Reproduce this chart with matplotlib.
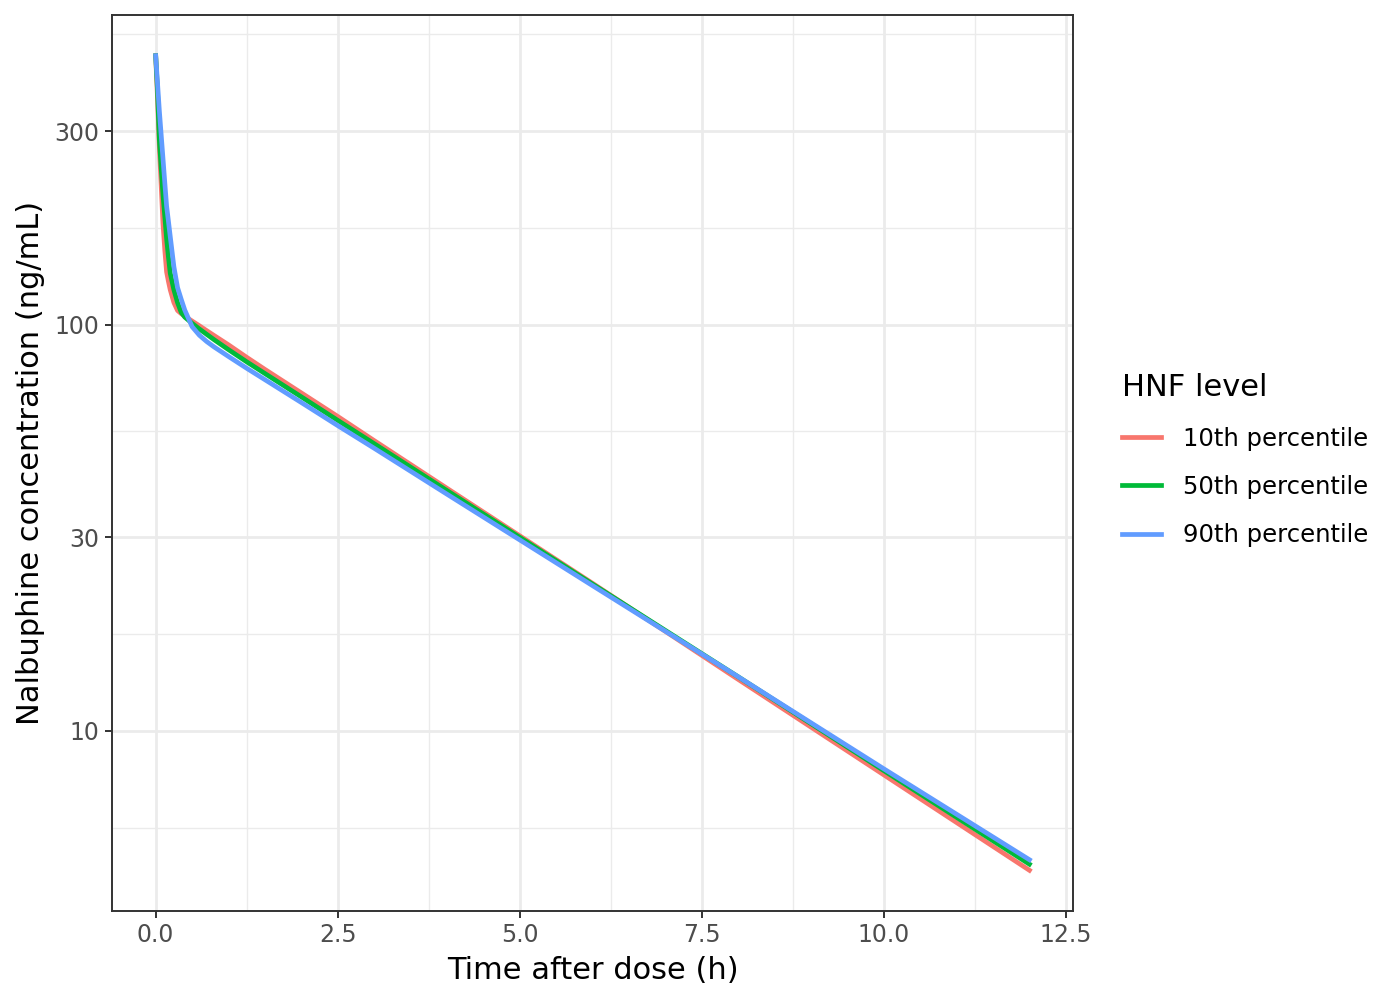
import matplotlib

matplotlib.use("Agg")
import matplotlib.pyplot as plt
import numpy as np

# values (time in h, concentration in ng/mL)
time_h = [0, 0.025, 0.05, 0.1, 0.125, 0.15, 0.175, 0.2, 0.25, 0.3, 0.35, 0.4,
          0.5, 0.6, 0.7, 0.8, 1.0, 1.25, 1.5, 2, 2.5, 3, 4, 6, 8, 10, 12]
conc_p10 = [460, 362, 275, 178, 153, 135, 128, 122, 113.5, 108.5, 106.6,
            105.0, 102.2, 99.5, 96.8, 94.2, 89.3, 83.2, 77.7, 68.0, 59.5,
            51.9, 39.6, 23.1, 13.4, 7.80, 4.54]
conc_p50 = [460, 377, 286, 209, 185, 163, 147, 134, 122, 113.5, 107.4,
            104.5, 100.9, 97.7, 94.8, 92.0, 86.9, 81.1, 75.9, 66.5, 58.2,
            51.0, 39.1, 23.0, 13.6, 7.99, 4.70]
conc_p90 = [460, 394, 337, 257, 224, 196, 180, 165, 139, 123.6, 115.7,
            108.7, 99.0, 94.3, 91.0, 88.3, 83.6, 78.2, 73.3, 64.4, 56.5,
            49.7, 38.3, 22.8, 13.6, 8.07, 4.82]

series_labels = ["10th percentile", "50th percentile", "90th percentile"]
series_colors = ["#F8766D", "#00BA38", "#619CFF"]

x_breaks = [0, 2.5, 5, 7.5, 10, 12.5]
x_labels = ["0.0", "2.5", "5.0", "7.5", "10.0", "12.5"]
y_breaks = [10, 30, 100, 300]

plt.rcParams["font.family"] = ["DejaVu Sans"]

fig = plt.figure(figsize=(14, 10), dpi=100)
ax = fig.add_axes([0.08, 0.089, 0.6865, 0.896])

for vals, lab, col in zip([conc_p10, conc_p50, conc_p90], series_labels, series_colors):
    ax.plot(time_h, vals, color=col, lw=3.4, label=lab, solid_joinstyle="round", zorder=3)

ax.set_yscale("log")

# ggplot-like expansion (5%) in data / log space
allc = np.log10(np.concatenate([conc_p10, conc_p50, conc_p90]))
lo, hi = allc.min(), allc.max()
pad = 0.05 * (hi - lo)
ax.set_ylim(10 ** (lo - pad), 10 ** (hi + pad))
xr = max(time_h) - min(time_h)
ax.set_xlim(min(time_h) - 0.05 * xr, max(time_h) + 0.05 * xr)

ax.set_xticks(x_breaks)
ax.set_xticklabels(x_labels)
ax.set_yticks(y_breaks)
ax.set_yticklabels([str(b) for b in y_breaks])
ax.yaxis.set_minor_locator(matplotlib.ticker.NullLocator())
ax.xaxis.set_minor_locator(matplotlib.ticker.NullLocator())

# grid lines drawn by hand like ggplot (minor = midpoints in transformed space)
grid_col = "#EBEBEB"
xb = np.array(x_breaks)
x_minor = (xb[:-1] + xb[1:]) / 2
lb = np.log10(y_breaks)
step = lb[1] - lb[0]
lb_ext = np.concatenate([[lb[0] - step], lb, [lb[-1] + step]])
y_minor = 10 ** ((lb_ext[:-1] + lb_ext[1:]) / 2)
for xm in x_minor:
    ax.axvline(xm, color=grid_col, lw=1.0, zorder=0)
for ym in y_minor:
    ax.axhline(ym, color=grid_col, lw=1.0, zorder=0)
for xv in x_breaks:
    ax.axvline(xv, color=grid_col, lw=2.0, zorder=0)
for yv in y_breaks:
    ax.axhline(yv, color=grid_col, lw=2.0, zorder=0)

for sp in ax.spines.values():
    sp.set_color("#333333")
    sp.set_linewidth(1.4)

ax.tick_params(axis="both", length=5, width=1.4, color="#333333",
               labelsize=17, labelcolor="#4D4D4D", pad=4)

ax.set_xlabel("Time after dose (h)", fontsize=22, labelpad=6)
ax.set_ylabel("Nalbuphine concentration (ng/mL)", fontsize=22, labelpad=7)

leg = ax.legend(loc="center left", bbox_to_anchor=(0.786, 0.54),
                bbox_transform=fig.transFigure, frameon=False,
                title="HNF level", title_fontsize=22, fontsize=17.5,
                handlelength=1.6, handletextpad=0.9, labelspacing=1.0,
                alignment="left")
leg._legend_box.sep = 18

fig.savefig("out.png", dpi=100)
